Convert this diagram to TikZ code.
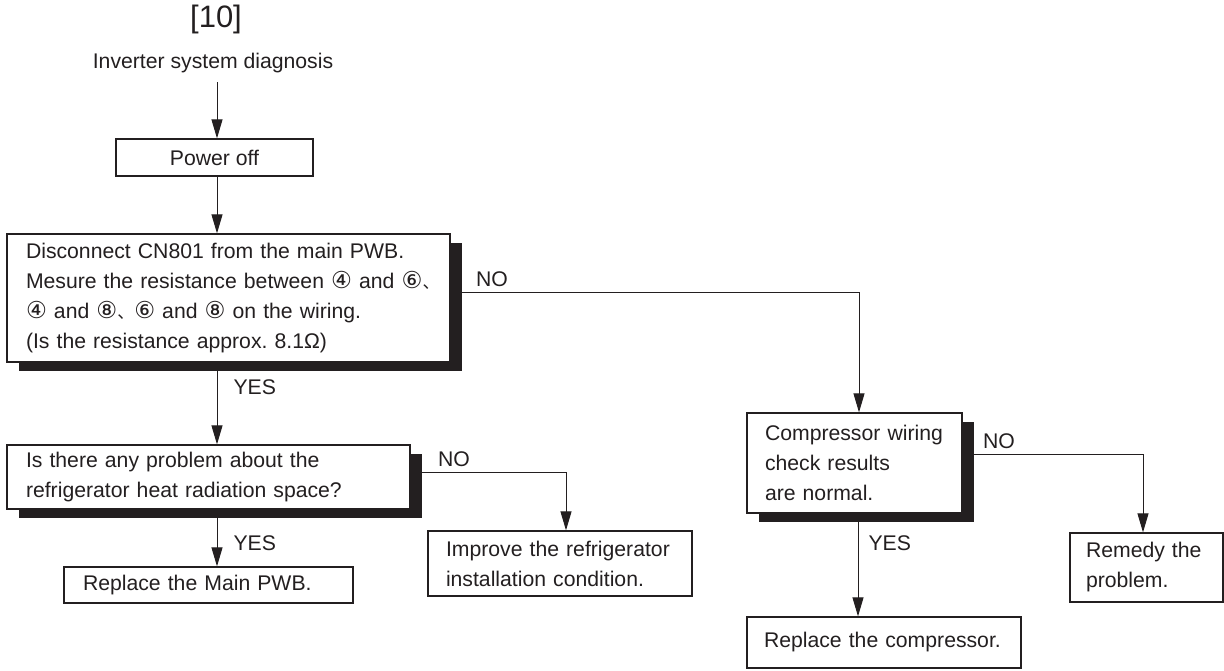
\documentclass[tikz,border=0pt]{standalone}
\usepackage{fontspec}
\setmainfont{Liberation Sans}
\newfontfamily\circled[Scale=1.1]{DejaVu Sans}
\newfontfamily\cjk[Scale=0.8]{Noto Sans CJK JP}
\usepackage{tikz}
\usetikzlibrary{positioning, arrows.meta, shadows}
\definecolor{ink}{HTML}{231F20}
\frenchspacing

\begin{document}
\begin{tikzpicture}[x=1pt, y=-1pt,
    txt/.style={font=\fontsize{21.2}{30}\selectfont, text=ink},
    box/.style={draw=ink, line width=1.3pt, fill=white, txt, inner sep=0pt, align=left},
    shadowbox/.style={box, drop shadow={shadow xshift=12pt, shadow yshift=-9pt, fill=ink, opacity=1}},
    arr/.style={draw=ink, line width=1pt, -{Triangle[length=19pt, width=11pt]}},
    lbl/.style={txt, inner sep=0pt}]
    \useasboundingbox (0,0) rectangle (1224,670);
    \coordinate (spine) at (217,0);

    \node[txt, font=\fontsize{31}{36}\selectfont] (title) at (216,19) {[10]};
    \node[txt, inner sep=9pt] (start) at (213,63) {Inverter system diagnosis};
    \node[box, align=center, minimum width=197pt, minimum height=37pt] (power) at (214.5,157.5) {Power off};
    \node[shadowbox, minimum width=443pt, minimum height=128pt, text width=405pt] (check) at (228.5,298)
        {Disconnect CN801 from the main PWB.\\
         \mbox{Mesure the resistance between {\circled ④} and {\circled ⑥}{\cjk 、}}\\
         {\circled ④} and {\circled ⑧}{\cjk 、}{\circled ⑥} and {\circled ⑧} on the wiring.\\
         (Is the resistance approx. 8.1Ω)};
    \node[shadowbox, minimum width=403pt, minimum height=64pt, text width=365pt] (radiation) at (208.5,477)
        {Is there any problem about the\\refrigerator heat radiation space?};
    \node[box, minimum width=289pt, minimum height=36pt, text width=251pt] (mainpwb) at (208.5,585) {Replace the Main PWB.};
    \node[box, minimum width=264pt, minimum height=65pt, text width=228pt] (improve) at (560,563.5)
        {Improve the refrigerator\\installation condition.};
    \node[shadowbox, minimum width=215pt, minimum height=100pt, text width=179pt] (compwire) at (854.5,463)
        {Compressor wiring\\check results\\are normal.};
    \node[box, minimum width=153pt, minimum height=69pt, text width=121pt] (remedy) at (1146.5,567.5)
        {Remedy the\\problem.};
    \node[box, minimum width=274pt, minimum height=51pt, text width=240pt] (compressor) at (884,642.5)
        {Replace the compressor.};

    \draw[arr] (spine |- start.south) -- (spine |- power.north);
    \draw[arr] (spine |- power.south) -- (spine |- check.north);
    \draw[arr] (spine |- check.south) -- (spine |- radiation.north)
        node[lbl, pos=0.3, anchor=west, xshift=16pt] {YES};
    \draw[arr] (spine |- radiation.south) -- (spine |- mainpwb.north)
        node[lbl, pos=0.59, anchor=west, xshift=16pt] {YES};
    \draw[arr] ([yshift=6pt]check.east) -| ([xshift=4.5pt]compwire.north)
        node[lbl, pos=0, anchor=south west, xshift=25pt, yshift=5pt] {NO};
    \draw[arr] ([yshift=5pt]radiation.east) -| ([xshift=6pt]improve.north)
        node[lbl, pos=0, anchor=south west, xshift=27pt, yshift=5pt] {NO};
    \draw[arr] ([yshift=9pt]compwire.east) -| ([xshift=-3.5pt]remedy.north)
        node[lbl, pos=0, anchor=south west, xshift=20pt, yshift=5pt] {NO};
    \draw[arr] ([xshift=3.5pt]compwire.south) -- ([xshift=3.5pt]compwire.south |- compressor.north)
        node[lbl, pos=0.29, anchor=west, xshift=10pt] {YES};
\end{tikzpicture}
\end{document}
